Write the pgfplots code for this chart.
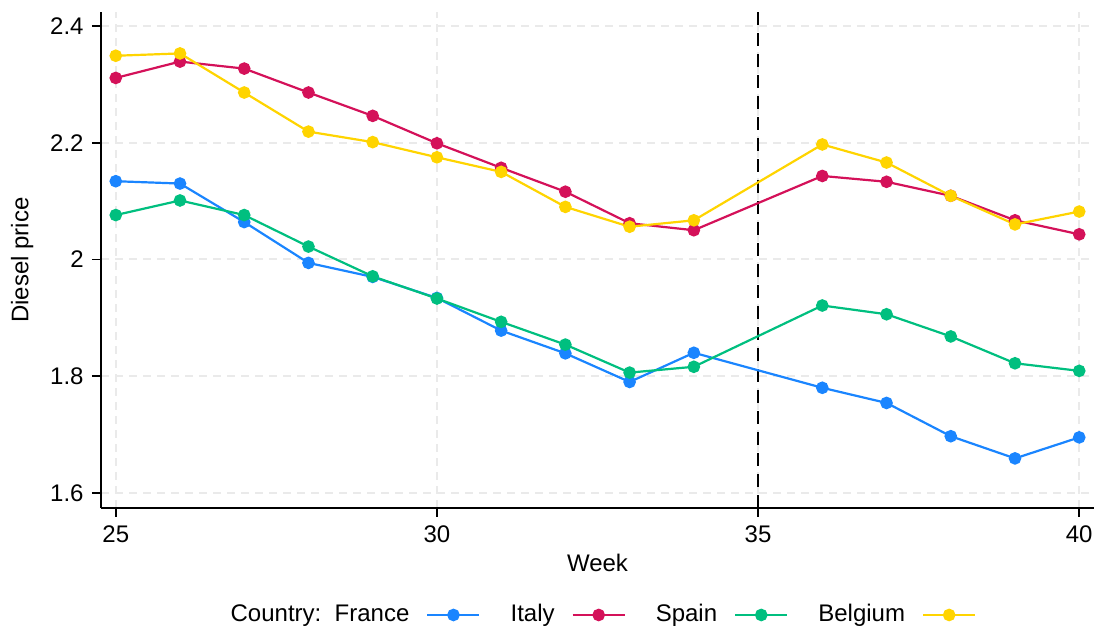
\documentclass[border=0pt]{standalone}
\usepackage{pgfplots}
\pgfplotsset{compat=1.18}
\usepackage{fontspec}
\setmainfont{Liberation Sans}
\definecolor{stblue}{RGB}{26,133,255}
\definecolor{stred}{RGB}{212,17,89}
\definecolor{stgreen}{RGB}{0,191,127}
\definecolor{styellow}{RGB}{255,212,0}
\definecolor{gridgray}{RGB}{234,234,234}
\begin{document}
\fontsize{12}{14}\selectfont
\begin{tikzpicture}
\begin{axis}[
    scale only axis,
    width=496.5pt, height=248pt,
    xmin=24.77, xmax=40.23,
    ymin=1.574, ymax=2.424,
    axis lines*=left,
    axis line style={black, line width=0.8pt},
    tick align=outside,
    major tick length=4.5pt,
    tick style={black, line width=0.8pt},
    xtick={25,30,35,40},
    ytick={1.6,1.8,2,2.2,2.4},
    grid=major,
    major grid style={gridgray, line width=1pt, dash pattern=on 4pt off 3pt},
    /pgf/number format/assume math mode=true,
    ticklabel style={font=\fontsize{12}{14}\selectfont},
    xlabel={Week}, ylabel={Diesel price},
    every axis x label/.style={at={(axis description cs:0.5,-0.111)}, anchor=center},
    every axis y label/.style={at={(axis description cs:-0.0795,0.5)}, rotate=90, anchor=center},
    every axis plot/.append style={line width=1.1pt, mark=*, mark size=2.6pt},
    legend plot pos=right,
    legend columns=4,
    legend style={draw=none, fill=none, at={(0.504,-0.2157)}, anchor=center,
        /tikz/every odd column/.style={column sep=6.5pt},
        /tikz/every even column/.style={column sep=13pt}},
    legend image code/.code={\draw[mark repeat=2, mark phase=2] plot coordinates {(0pt,0pt) (13pt,0pt) (26pt,0pt)};},
]
\draw[black, line width=1pt, dash pattern=on 6.5pt off 4pt] (axis cs:35,1.574) -- (axis cs:35,2.424);
\addplot[stblue] coordinates {(25,2.134) (26,2.130) (27,2.064) (28,1.994) (29,1.970) (30,1.934) (31,1.878) (32,1.839) (33,1.790) (34,1.840) (36,1.780) (37,1.754) (38,1.697) (39,1.659) (40,1.695)};
\addlegendentry{Country:\ \ France}
\addplot[stred] coordinates {(25,2.311) (26,2.339) (27,2.327) (28,2.286) (29,2.246) (30,2.199) (31,2.157) (32,2.116) (33,2.062) (34,2.050) (36,2.143) (37,2.133) (38,2.109) (39,2.067) (40,2.043)};
\addlegendentry{Italy}
\addplot[stgreen] coordinates {(25,2.076) (26,2.101) (27,2.076) (28,2.022) (29,1.971) (30,1.933) (31,1.893) (32,1.854) (33,1.806) (34,1.816) (36,1.921) (37,1.906) (38,1.868) (39,1.822) (40,1.809)};
\addlegendentry{Spain}
\addplot[styellow] coordinates {(25,2.349) (26,2.353) (27,2.286) (28,2.219) (29,2.201) (30,2.175) (31,2.150) (32,2.090) (33,2.056) (34,2.067) (36,2.197) (37,2.166) (38,2.109) (39,2.060) (40,2.082)};
\addlegendentry{Belgium}
\coordinate (bl) at (rel axis cs:0,0);
\coordinate (tr) at (rel axis cs:1,1);
\end{axis}
\pgfresetboundingbox
\path[use as bounding box] ([shift={(-50.5pt,-63.5pt)}]bl) rectangle ([shift={(2pt,6pt)}]tr);
\end{tikzpicture}
\end{document}
